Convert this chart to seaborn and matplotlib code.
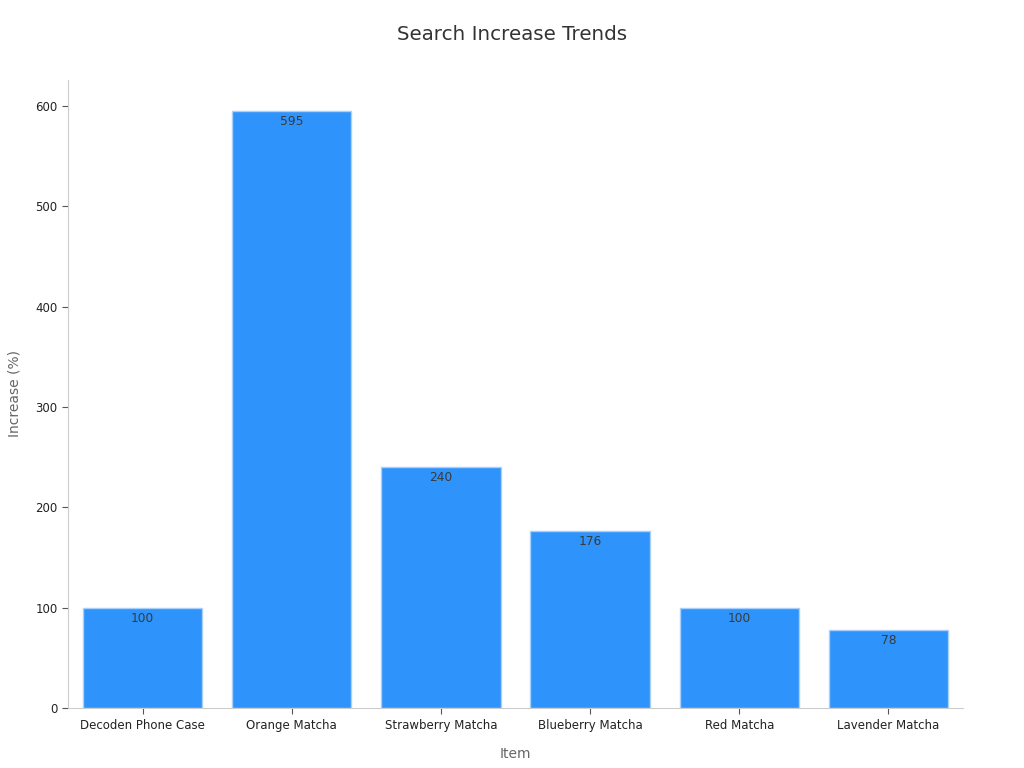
import pandas as pd
import seaborn as sns
import matplotlib.pyplot as plt

items = ["Decoden Phone Case", "Orange Matcha", "Strawberry Matcha",
         "Blueberry Matcha", "Red Matcha", "Lavender Matcha"]
increase = [100, 595, 240, 176, 100, 78]

df = pd.DataFrame({"Item": items, "Increase": increase})

sns.set_style("ticks")
plt.rcParams["font.family"] = ["DejaVu Sans"]

fig = plt.figure(figsize=(10.24, 7.68), dpi=100)
ax = fig.add_axes([0.0664, 0.078, 0.8740, 0.818])

sns.barplot(data=df, x="Item", y="Increase", color="#2E93FA", saturation=1,
            width=0.8, edgecolor="#A9D0FB", linewidth=1, ax=ax)

for i, v in enumerate(increase):
    ax.text(i, v - 4, str(v), ha="center", va="top", fontsize=8.8, color="#3a3a3a")

ax.set_xlim(-0.5, 5.5)
ax.set_ylim(0, 626)
ax.set_yticks([0, 100, 200, 300, 400, 500, 600])
ax.tick_params(axis="both", labelsize=8.5, colors="#222222", length=4)
ax.tick_params(axis="both", color="#555555")
for s in ["top", "right"]:
    ax.spines[s].set_visible(False)
for s in ["left", "bottom"]:
    ax.spines[s].set_color("#cccccc")
ax.set_xlabel("Item", fontsize=10, color="#666666", labelpad=11)
ax.set_ylabel("Increase (%)", fontsize=10, color="#666666", labelpad=10)
fig.suptitle("Search Increase Trends", fontsize=14.3, color="#333333", y=0.968)

fig.savefig("out.png", dpi=100)
